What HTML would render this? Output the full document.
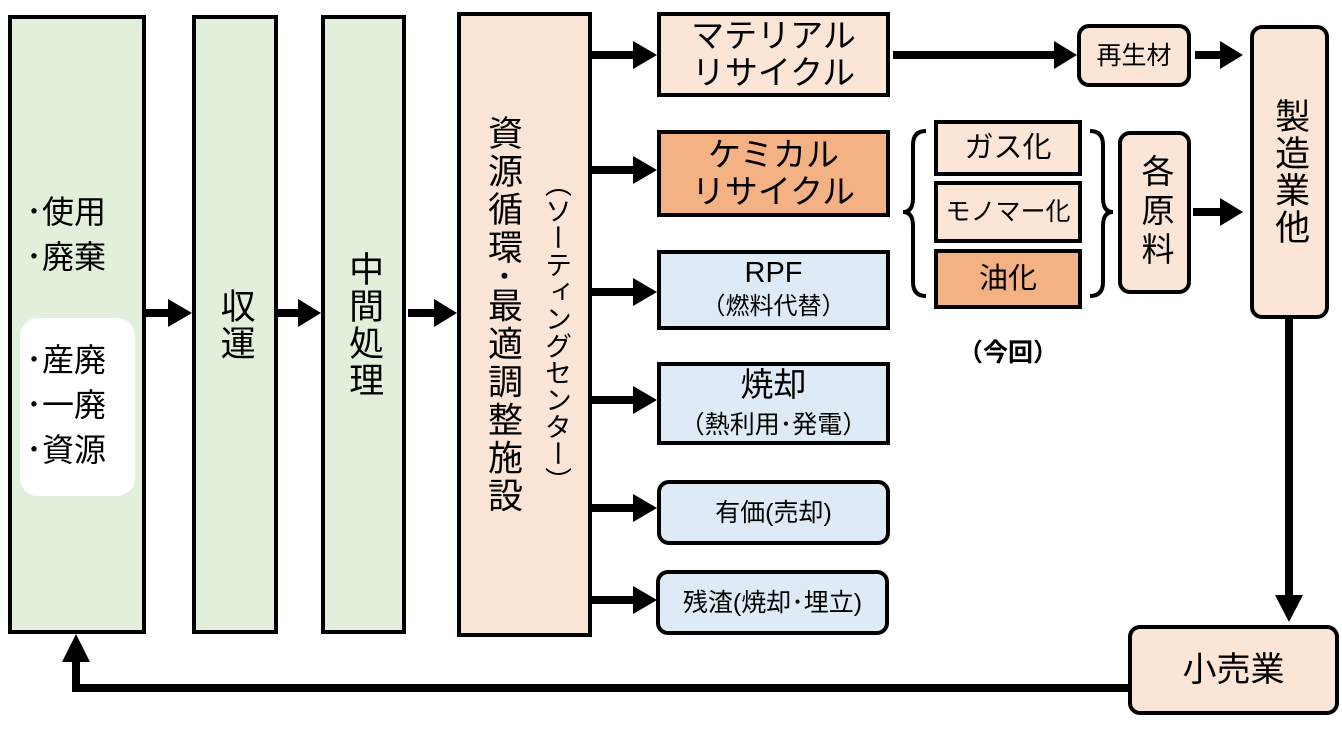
<!DOCTYPE html>
<html><head><meta charset="utf-8"><style>
body{margin:0;width:1342px;height:729px;background:#fff;position:relative;overflow:hidden;font-family:"Liberation Sans","Noto Sans CJK JP",sans-serif;color:#000}
.b{position:absolute;box-sizing:border-box;border:4px solid #000;display:flex;align-items:center;justify-content:center;text-align:center;line-height:1.12}
.g{background:#e2efda}.p{background:#fbe5d6}.o{background:#f4b183}.bl{background:#deebf7}
.r{border-radius:12px}
.v{writing-mode:vertical-rl;letter-spacing:2px}
.t{position:absolute;white-space:nowrap}
</style></head><body>
<svg width="1342" height="729" style="position:absolute;left:0;top:0">
<g stroke="#000" stroke-width="8" fill="none">
<line x1="145" y1="313" x2="170" y2="313"/><line x1="277" y1="313" x2="300" y2="313"/><line x1="408" y1="313" x2="436" y2="313"/>
<line x1="591" y1="55" x2="635" y2="55"/><line x1="591" y1="170" x2="635" y2="170"/><line x1="591" y1="292" x2="635" y2="292"/>
<line x1="591" y1="400" x2="635" y2="400"/><line x1="591" y1="508" x2="635" y2="508"/><line x1="591" y1="600" x2="635" y2="600"/>
<line x1="893" y1="55" x2="1056" y2="55"/><line x1="1195" y1="55" x2="1222" y2="55"/><line x1="1193" y1="212" x2="1222" y2="212"/>
<line x1="1289" y1="318" x2="1289" y2="598"/>
<polyline points="1128,688 76,688 76,660"/>
</g>
<g fill="#000">
<polygon points="168,299 192,313 168,327"/><polygon points="298,299 321,313 298,327"/><polygon points="434,299 457,313 434,327"/>
<polygon points="633,41 657,55 633,69"/><polygon points="633,156 657,170 633,184"/><polygon points="633,278 657,292 633,306"/>
<polygon points="633,386 657,400 633,414"/><polygon points="633,494 657,508 633,522"/><polygon points="633,586 657,600 633,614"/>
<polygon points="1054,41 1077,55 1054,69"/><polygon points="1220,41 1243,55 1220,69"/><polygon points="1220,198 1243,212 1220,226"/>
<polygon points="1275,595 1289,622 1303,595"/><polygon points="62,662 76,634 90,662"/>
</g>
<g stroke="#000" stroke-width="4" fill="none">
<path d="M926,131 Q913,131 913,145 L913,198 Q913,212 903,212 Q913,212 913,226 L913,282 Q913,296 926,296"/>
<path d="M1090,131 Q1103,131 1103,145 L1103,198 Q1103,212 1113,212 Q1103,212 1103,226 L1103,282 Q1103,296 1090,296"/>
</g>
</svg>
<div class="b g" style="left:8px;top:15px;width:138px;height:619px"></div>
<div class="t" style="left:26px;top:190px;font-size:32px;line-height:45px">･使用<br>･廃棄</div>
<div style="position:absolute;left:20px;top:318px;width:115px;height:178px;background:#fff;border-radius:18px"></div>
<div class="t" style="left:26px;top:338px;font-size:32px;line-height:45px">･産廃<br>･一廃<br>･資源</div>
<div class="b g" style="left:192px;top:15px;width:86px;height:619px"><span class="v" style="font-size:35px">収運</span></div>
<div class="b g" style="left:321px;top:15px;width:85px;height:619px"><span class="v" style="font-size:35px">中間処理</span></div>
<div class="b p" style="left:457px;top:12px;width:135px;height:625px"></div>
<div class="t v" style="left:477px;top:115px;font-size:35px;letter-spacing:3px">資源循環･最適調整施設</div>
<div class="t v" style="left:537px;top:170px;font-size:27px;letter-spacing:0">（ソーティングセンター）</div>
<div class="b p" style="left:657px;top:12px;width:233px;height:85px;font-size:33px"><div>マテリアル<br>リサイクル</div></div>
<div class="b o" style="left:657px;top:130px;width:233px;height:87px;font-size:33px"><div>ケミカル<br>リサイクル</div></div>
<div class="b bl" style="left:657px;top:250px;width:233px;height:80px;font-size:29px"><div style="line-height:1.1">RPF<br><span style="font-size:24px">（燃料代替）</span></div></div>
<div class="b bl" style="left:657px;top:362px;width:233px;height:83px;font-size:33px"><div style="line-height:1.1">焼却<br><span style="font-size:25px">（熱利用･発電）</span></div></div>
<div class="b bl r" style="left:657px;top:480px;width:233px;height:65px;font-size:25px">有価(売却)</div>
<div class="b bl r" style="left:656px;top:570px;width:233px;height:65px;font-size:25px">残渣(焼却･埋立)</div>
<div class="b p r" style="left:1077px;top:24px;width:114px;height:63px;font-size:25px">再生材</div>
<div class="b p r" style="left:1250px;top:25px;width:79px;height:294px"><span class="v" style="font-size:35px">製造業他</span></div>
<div class="b p" style="left:934px;top:120px;width:148px;height:56px;font-size:29px">ガス化</div>
<div class="b p" style="left:934px;top:181px;width:148px;height:62px;font-size:25px">モノマー化</div>
<div class="b o" style="left:934px;top:249px;width:148px;height:60px;font-size:29px">油化</div>
<div class="t" style="left:958px;top:333px;font-size:25px;font-weight:bold">（今回）</div>
<div class="b p r" style="left:1118px;top:131px;width:73px;height:163px"><span class="v" style="font-size:33px;letter-spacing:6px">各原料</span></div>
<div class="b p r" style="left:1128px;top:625px;width:211px;height:90px;font-size:34px">小売業</div>
</body></html>
